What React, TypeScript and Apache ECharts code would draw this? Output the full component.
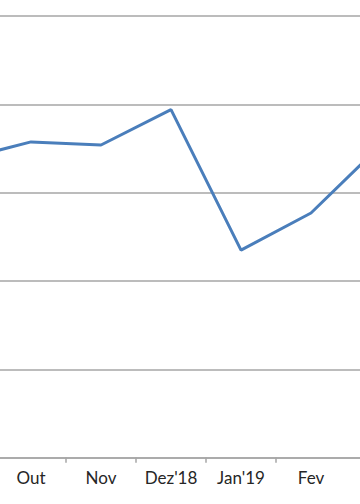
import React, { useEffect, useRef } from "react";
import * as echarts from "echarts";

const categories = ["Set", "Out", "Nov", "Dez'18", "Jan'19", "Fev", "Mar"];
const values = [3.37, 3.575, 3.54, 3.94, 2.35, 2.77, 3.54];
const yMin = 0;
const yMax = 5;
const yInterval = 1;

export default function App() {
  const ref = useRef<HTMLDivElement>(null);
  useEffect(() => {
    document.body.style.margin = "0";
    document.body.style.overflow = "hidden";
    const chart = echarts.init(ref.current!, undefined, { renderer: "svg" });
    chart.setOption({
      animation: false,
      grid: { left: 0, right: 0, top: 16, bottom: 46.3, containLabel: false },
      xAxis: {
        type: "category",
        data: categories,
        boundaryGap: true,
        axisLine: { show: true, lineStyle: { color: "#a6a6a6", width: 1.5 } },
        axisTick: { show: true, length: 5, lineStyle: { color: "#a6a6a6", width: 1.5 } },
        axisLabel: {
          interval: (index: number) => index > 0 && index < categories.length - 1,
          color: "#262626",
          fontFamily: "Lato",
          fontSize: 17,
          margin: 11,
        },
      },
      yAxis: {
        type: "value",
        min: yMin,
        max: yMax,
        interval: yInterval,
        axisLine: { show: false },
        axisTick: { show: false },
        axisLabel: { show: false },
        splitLine: { lineStyle: { color: "#a6a6a6", width: 1.5 } },
      },
      series: [
        {
          type: "line",
          data: values,
          symbol: "none",
          lineStyle: { color: "#4a7ebb", width: 3 },
        },
      ],
    });
    return () => chart.dispose();
  }, []);
  return (
    <div style={{ position: "relative", width: 360, height: 504, overflow: "hidden" }}>
      <div ref={ref} style={{ position: "absolute", left: -74, top: 0, width: 490, height: 504 }} />
    </div>
  );
}
